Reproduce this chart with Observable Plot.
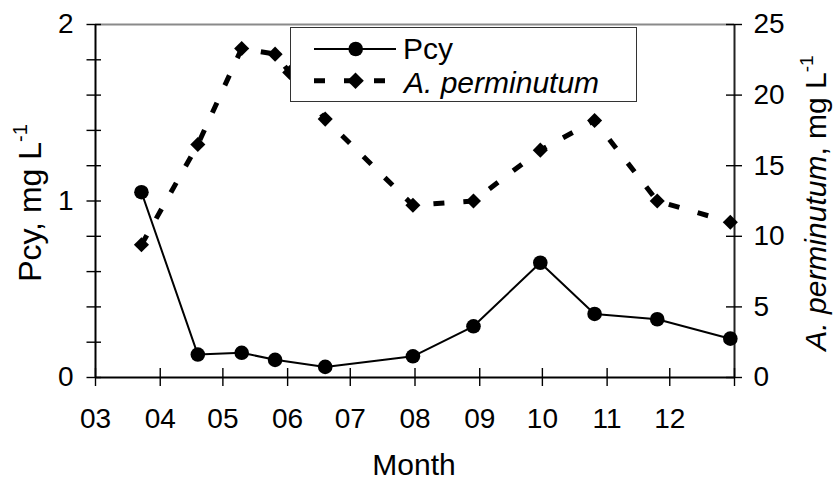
<!DOCTYPE html>
<html>
<head>
<meta charset="utf-8">
<script src="https://cdn.jsdelivr.net/npm/d3@7"></script>
<script src="https://cdn.jsdelivr.net/npm/@observablehq/plot@0.6"></script>
<style>
  body { margin: 0; background: #fff; }
  #chart { width: 837px; height: 482px; }
</style>
</head>
<body>
<div id="chart"></div>
<script>
// ---- data ----
const pcyDates   = ["03-23","04-19","05-10","05-26","06-19","07-31","08-29","09-30","10-26","11-25","12-30"];
const pcyValues  = [1.05, 0.13, 0.14, 0.10, 0.06, 0.12, 0.29, 0.65, 0.36, 0.33, 0.22];
const apmDates   = ["03-23","04-19","05-10","05-26","06-02","06-19","07-31","08-29","09-30","10-26","11-25","12-30"];
const apmValues  = [9.4, 16.5, 23.3, 22.9, 21.6, 18.3, 12.2, 12.5, 16.1, 18.2, 12.5, 11.0];
const monthLabels = ["03","04","05","06","07","08","09","10","11","12"];
const pcyTickLabels = [0, 1, 2];
const pcyMinorTicks = [0, 0.2, 0.4, 0.6, 0.8, 1, 1.2, 1.4, 1.6, 1.8, 2];
const apmTickLabels = [0, 5, 10, 15, 20, 25];
const seriesNames = ["Pcy", "A. perminutum"];
const xTitle = "Month";

// ---- derived tables ----
const YEAR = 2001;
const parse = s => new Date(`${YEAR}-${s}T00:00:00Z`);
const PCY_MAX = 2, APM_MAX = 25;
const toLeft = v => v * PCY_MAX / APM_MAX;
const pcy = pcyDates.map((d, i) => ({date: parse(d), value: pcyValues[i]}));
const apm = apmDates.map((d, i) => ({date: parse(d), value: apmValues[i]}));
const monthStarts = monthLabels.map(m => parse(m + "-01"));
const xStart = monthStarts[0];
const xEnd = new Date(Date.UTC(YEAR + 1, 0, 1));
const allMonthTicks = monthStarts.concat([xEnd]);

const FONT = "'Liberation Sans', Arial, Helvetica, sans-serif";
const TICK_FS = 28;

const chart = Plot.plot({
  width: 837,
  height: 482,
  marginLeft: 95,
  marginRight: 103,
  marginTop: 24,
  marginBottom: 105,
  style: {fontFamily: FONT, background: "#fff", color: "#000", overflow: "visible"},
  x: {type: "utc", domain: [xStart, xEnd], axis: null},
  y: {domain: [0, PCY_MAX], axis: null},
  marks: [
    // top frame line (gray)
    Plot.ruleY([PCY_MAX], {stroke: "#8a8a8a", strokeWidth: 2}),
    // axis lines
    Plot.ruleY([0], {stroke: "#000", strokeWidth: 2}),
    Plot.ruleX([xStart], {stroke: "#000", strokeWidth: 2}),
    Plot.ruleX([xEnd], {stroke: "#222", strokeWidth: 2}),
    // x ticks (crossing the axis)
    Plot.ruleX(allMonthTicks, {x: d => d, y1: () => 0, y2: () => 0, insetTop: -9, insetBottom: -9, stroke: "#000", strokeWidth: 1.4}),
    // left y ticks
    Plot.ruleY(pcyMinorTicks, {y: d => d, x1: () => xStart, x2: () => xStart, insetLeft: -8.5, insetRight: -6, stroke: "#000", strokeWidth: 1.4}),
    // right y ticks
    Plot.ruleY(apmTickLabels, {y: d => toLeft(d), x1: () => xEnd, x2: () => xEnd, insetLeft: -8, insetRight: -8, stroke: "#000", strokeWidth: 1.4}),
    // tick labels
    Plot.text(monthStarts, {x: d => d, y: () => 0, text: (d, i) => monthLabels[i], dy: 42, fontSize: TICK_FS, lineAnchor: "middle", fill: "#000"}),
    Plot.text(pcyTickLabels, {x: () => xStart, y: d => d, text: d => String(d), dx: -22, textAnchor: "end", lineAnchor: "middle", fontSize: TICK_FS, fill: "#000"}),
    Plot.text(apmTickLabels, {x: () => xEnd, y: d => toLeft(d), text: d => String(d), dx: 19, textAnchor: "start", lineAnchor: "middle", fontSize: TICK_FS, fill: "#000"}),
    // A. perminutum (right axis) series
    Plot.line(apm, {x: "date", y: d => toLeft(d.value), stroke: "#000", strokeWidth: 5, strokeDasharray: "11,19", strokeLinecap: "butt"}),
    Plot.dot(apm, {x: "date", y: d => toLeft(d.value), symbol: "diamond2", r: 6.8, fill: "#000", stroke: "none"}),
    // Pcy series
    Plot.line(pcy, {x: "date", y: "value", stroke: "#000", strokeWidth: 2}),
    Plot.dot(pcy, {x: "date", y: "value", r: 7.3, fill: "#000", stroke: "none"})
  ]
});

document.getElementById("chart").appendChild(chart);

// ---- titles and legend ----
const svg = d3.select(chart);
const NS = svg.append("g").attr("font-family", FONT).attr("fill", "#000");

// x title
NS.append("text").attr("x", 414).attr("y", 475).attr("text-anchor", "middle")
  .attr("font-size", 30).text(xTitle);

// left title
const lt = NS.append("text").attr("transform", "translate(41,203) rotate(-90)")
  .attr("text-anchor", "middle").attr("font-size", 32);
lt.append("tspan").text(seriesNames[0] + ", mg L");
lt.append("tspan").attr("font-size", 20).attr("dy", -14).text("-1");

// right title
const rt = NS.append("text").attr("transform", "translate(826,203) rotate(-90)")
  .attr("text-anchor", "middle").attr("font-size", 30);
rt.append("tspan").attr("font-style", "italic").text(seriesNames[1]);
rt.append("tspan").text(", mg L");
rt.append("tspan").attr("font-size", 19).attr("dy", -13).text("-1");

// legend
const lg = NS.append("g");
lg.append("rect").attr("x", 290.5).attr("y", 27.5).attr("width", 346).attr("height", 74)
  .attr("fill", "#fff").attr("stroke", "#333").attr("stroke-width", 1);
lg.append("line").attr("x1", 314).attr("x2", 396).attr("y1", 49).attr("y2", 49)
  .attr("stroke", "#000").attr("stroke-width", 2);
lg.append("circle").attr("cx", 355.7).attr("cy", 49).attr("r", 7.3).attr("fill", "#000");
lg.append("text").attr("x", 403).attr("y", 58.5).attr("font-size", 30)
  .attr("text-anchor", "start").text(seriesNames[0]);
lg.append("line").attr("x1", 314).attr("x2", 388).attr("y1", 80.7).attr("y2", 80.7)
  .attr("stroke", "#000").attr("stroke-width", 5).attr("stroke-dasharray", "11,19");
lg.append("path").attr("d", "M355.5,72.4L363.8,80.7L355.5,89L347.2,80.7Z").attr("fill", "#000");
lg.append("text").attr("x", 404).attr("y", 92.5).attr("font-size", 30)
  .attr("text-anchor", "start").attr("font-style", "italic").text(seriesNames[1]);
</script>
</body>
</html>
